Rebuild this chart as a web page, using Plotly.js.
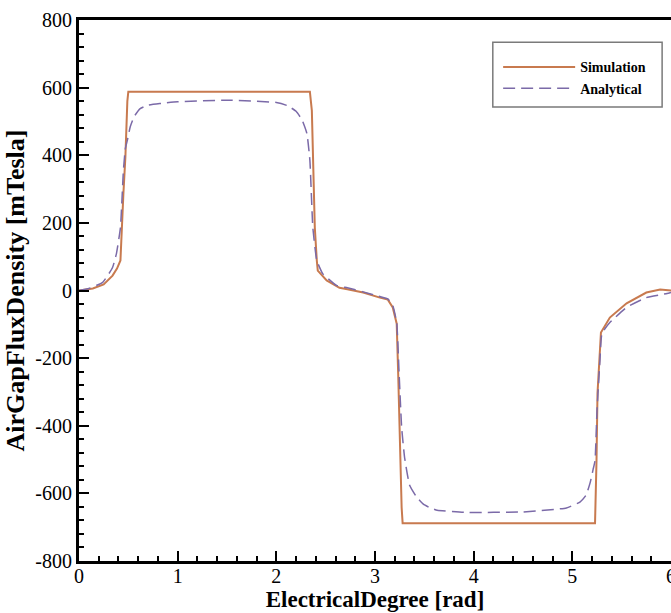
<!DOCTYPE html>
<html>
<head>
<meta charset="utf-8">
<script src="https://cdn.plot.ly/plotly-3.0.1.min.js"></script>
<style>html,body{margin:0;padding:0;background:#fff;}#chart{width:671px;height:613px;}</style>
</head>
<body>
<div id="chart"></div>
<script>
// Simulation series (electrical degree [rad], flux density [mTesla])
const simX = [0, 0.14, 0.25, 0.34, 0.385, 0.42, 0.45, 0.47, 0.49, 0.50, 1.0, 2.0, 2.34, 2.36, 2.37, 2.39, 2.41, 2.42, 2.51, 2.64, 2.72, 2.88, 3.05, 3.13, 3.18, 3.22, 3.235, 3.25, 3.27, 3.28, 4.0, 5.0, 5.23, 5.245, 5.255, 5.29, 5.38, 5.55, 5.75, 5.89, 6.0];
const simY = [0, 6, 18, 44, 65, 89, 287, 394, 560, 588, 588, 588, 588, 532, 385, 186, 89, 59, 30, 8, 4, -6, -21, -27, -50, -98, -246, -444, -642, -688, -688, -688, -688, -503, -305, -124, -80, -38, -6, 3, 0];

// Analytical series
const anaX = [0, 0.1, 0.24, 0.34, 0.38, 0.42, 0.45, 0.47, 0.49, 0.52, 0.56, 0.62, 0.7, 0.82, 1.0, 1.5, 2.0, 2.11, 2.2, 2.26, 2.31, 2.34, 2.37, 2.41, 2.47, 2.61, 2.72, 2.88, 3.05, 3.13, 3.18, 3.22, 3.245, 3.27, 3.30, 3.35, 3.42, 3.49, 3.56, 3.63, 3.9, 4.5, 4.94, 5.08, 5.14, 5.18, 5.21, 5.23, 5.25, 5.28, 5.30, 5.38, 5.55, 5.75, 5.96, 6.0];
const anaY = [0, 6, 24, 68, 110, 186, 355, 420, 444, 485, 515, 538, 548, 553, 558, 563, 556, 547, 530, 505, 464, 385, 186, 89, 50, 15, 8, -4, -18, -25, -45, -95, -250, -405, -494, -575, -610, -632, -643, -650, -656, -655, -643, -625, -605, -569, -530, -503, -355, -207, -127, -95, -50, -21, -9, -6];

// Tick labels
const xTickVals = [0, 1, 2, 3, 4, 5, 6];
const xTickText = ['0', '1', '2', '3', '4', '5', '6'];
const yTickVals = [-800, -600, -400, -200, 0, 200, 400, 600, 800];
const yTickText = ['-800', '-600', '-400', '-200', '0', '200', '400', '600', '800'];

const seriesNames = ['Simulation', 'Analytical'];

const serif = '"Liberation Serif", "Times New Roman", serif';

const traces = [
  {x: simX, y: simY, name: seriesNames[0], type: 'scatter', mode: 'lines',
   line: {color: '#c87a4f', width: 2}},
  {x: anaX, y: anaY, name: seriesNames[1], type: 'scatter', mode: 'lines',
   line: {color: '#7b6aa8', width: 1.5, dash: '12px,6px', shape: 'spline', smoothing: 0.4}}
];

const layout = {
  width: 671, height: 613,
  margin: {l: 79, r: 0, t: 20, b: 52},
  paper_bgcolor: '#fff', plot_bgcolor: '#fff',
  showlegend: true,
  legend: {
    x: 0.708, y: 0.942, xanchor: 'left', yanchor: 'top',
    bgcolor: 'rgba(0,0,0,0)', borderwidth: 0,
    itemwidth: 72,
    font: {family: serif, size: 14, color: '#000', weight: 'bold'}
  },
  shapes: [
    {type: 'rect', xref: 'paper', yref: 'paper', x0: 0.699, x1: 0.985, y0: 0.839, y1: 0.959,
     line: {color: '#7a7a7a', width: 1.5}, fillcolor: 'rgba(0,0,0,0)'}
  ],
  xaxis: {
    range: [0, 6], showgrid: false, zeroline: false,
    showline: true, linecolor: '#000', linewidth: 3, mirror: true,
    ticks: 'inside', ticklen: 10, tickwidth: 2, tickcolor: '#000',
    tickvals: xTickVals, ticktext: xTickText,
    ticklabeloverflow: 'allow', ticklabelstandoff: -5,
    tickfont: {family: serif, size: 20, color: '#000'},
    minor: {ticks: 'inside', ticklen: 5, tickwidth: 1.5, tickcolor: '#000', dtick: 0.2, showgrid: false},
    title: {text: 'ElectricalDegree [rad]', font: {family: serif, size: 23, color: '#000', weight: 'bold'}, standoff: 2}
  },
  yaxis: {
    range: [-800, 800], showgrid: false, zeroline: false,
    showline: true, linecolor: '#000', linewidth: 3,
    ticks: 'inside', ticklen: 10, tickwidth: 2, tickcolor: '#000',
    tickvals: yTickVals, ticktext: yTickText,
    tickfont: {family: serif, size: 20, color: '#000'},
    minor: {ticks: 'inside', ticklen: 5, tickwidth: 1.5, tickcolor: '#000', dtick: 40, showgrid: false},
    title: {text: 'AirGapFluxDensity [mTesla]', font: {family: serif, size: 26, color: '#000', weight: 'bold'}, standoff: 4}
  }
};

Plotly.newPlot('chart', traces, layout, {displayModeBar: false, responsive: false});
</script>
</body>
</html>
